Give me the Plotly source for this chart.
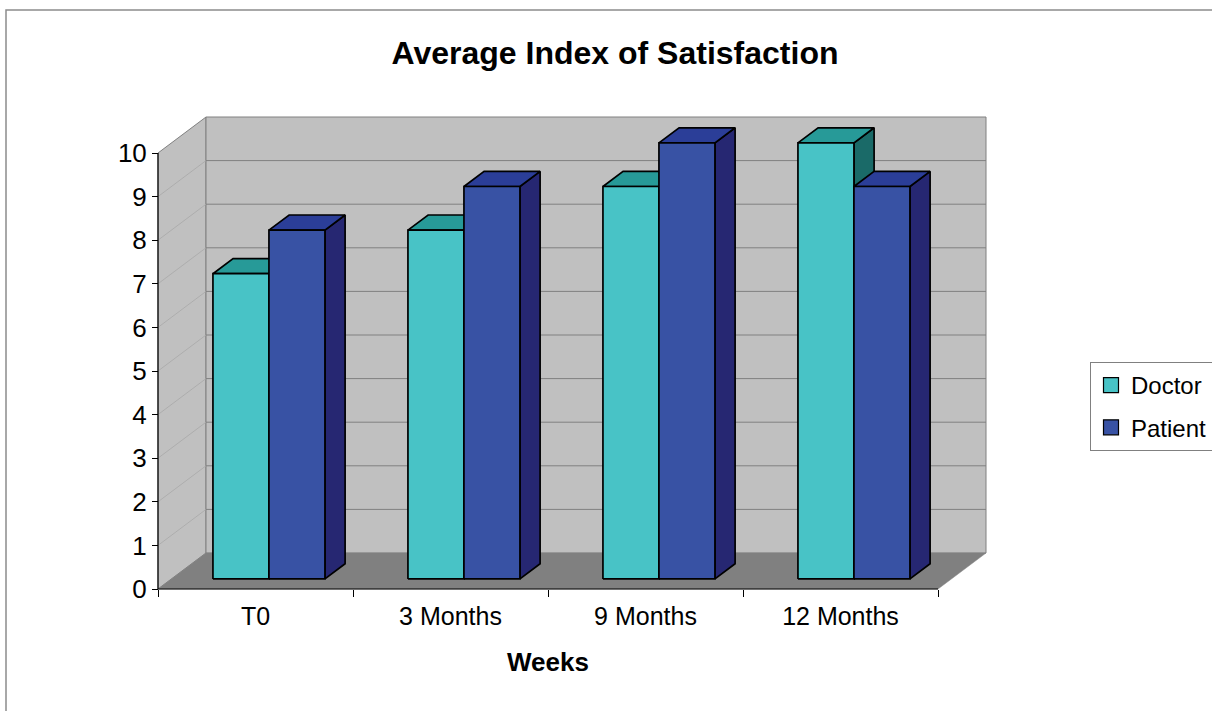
import plotly.graph_objects as go

# ---------------- data ----------------
categories = ["T0", "3 Months", "9 Months", "12 Months"]
doctor = [7, 8, 9, 10]
patient = [8, 9, 10, 9]
series_names = ["Doctor", "Patient"]
y_tick_values = [0, 1, 2, 3, 4, 5, 6, 7, 8, 9, 10]
chart_title = "Average Index of Satisfaction"
x_title = "Weeks"

# ---------------- styles ----------------
FONT = "Liberation Sans, Arial, Helvetica, sans-serif"
FRONT = {"Doctor": "#48C3C6", "Patient": "#3852A4"}
TOP = {"Doctor": "#279A98", "Patient": "#2B3E98"}
SIDE = {"Doctor": "#1A6A68", "Patient": "#262772"}
WALL = "#C0C0C0"
FLOOR = "#808080"
GRID = "#808080"
SIDE_GRID = "#A8A8A8"

# ---------------- layout plan (pixels) ----------------
W, H = 1212, 711
X0PX, Y0PX = 158, 589          # pixel of (x=0, value=0) on the front plane
PX_CAT, PX_VAL = 195.0, 43.6   # pixels per category / per value unit
ML, MR, MT, MB = 154, W - 990, 113, H - 592
PW, PH = W - ML - MR, H - MT - MB
xr = [(ML - X0PX) / PX_CAT, (W - MR - X0PX) / PX_CAT]
yr = [(Y0PX - (H - MB)) / PX_VAL, (Y0PX - MT) / PX_VAL]

DX = 48 / PX_CAT   # depth offset in category units
DY = 36 / PX_VAL   # depth offset in value units
F0, F1 = 0.28, 0.70  # bar front/back depth fractions
BAR_W = 56 / PX_CAT
ncat = len(categories)
vmax = max(y_tick_values)


def px_to_paper_x(px):
    return (px - ML) / PW


def px_to_paper_y(py):
    return ((H - MB) - py) / PH


fig = go.Figure()


def poly(xs, ys, fill, lcolor="black", lwidth=1.7):
    fig.add_trace(go.Scatter(
        x=xs + [xs[0]], y=ys + [ys[0]], mode="lines", fill="toself",
        fillcolor=fill, line=dict(color=lcolor, width=lwidth),
        hoverinfo="skip", showlegend=False))


# walls and floor
poly([0, 0, DX, DX], [0, vmax, vmax + DY, DY], WALL, GRID, 1)
poly([DX, DX, ncat + DX, ncat + DX], [DY, vmax + DY, vmax + DY, DY], WALL, GRID, 1)
poly([0, ncat, ncat + DX, DX], [0, 0, DY, DY], FLOOR, FLOOR, 0.5)

# gridlines on back wall and side wall
gx, gy, sx, sy = [], [], [], []
for v in y_tick_values[1:-1]:
    gx += [DX, ncat + DX, None]
    gy += [v + DY, v + DY, None]
    sx += [0, DX, None]
    sy += [v, v + DY, None]
fig.add_trace(go.Scatter(x=gx, y=gy, mode="lines", line=dict(color=GRID, width=1),
                         hoverinfo="skip", showlegend=False))
fig.add_trace(go.Scatter(x=sx, y=sy, mode="lines", line=dict(color=SIDE_GRID, width=0.8),
                         hoverinfo="skip", showlegend=False))

# 3D bars
values = {"Doctor": doctor, "Patient": patient}
ox0, oy0 = F0 * DX, F0 * DY
ox1, oy1 = F1 * DX, F1 * DY
for i in range(ncat):
    for s, name in enumerate(series_names):
        v = values[name][i]
        left = i + 0.5 - BAR_W + s * BAR_W
        right = left + BAR_W
        # side face
        poly([right + ox0, right + ox1, right + ox1, right + ox0],
             [oy0, oy1, v + oy1, v + oy0], SIDE[name])
        # top face
        poly([left + ox0, right + ox0, right + ox1, left + ox1],
             [v + oy0, v + oy0, v + oy1, v + oy1], TOP[name])
        # front face
        poly([left + ox0, right + ox0, right + ox0, left + ox0],
             [oy0, oy0, v + oy0, v + oy0], FRONT[name])

# front axis lines
fig.add_trace(go.Scatter(x=[0, 0, None, 0, ncat], y=[0, vmax, None, 0, 0], mode="lines",
                         line=dict(color="black", width=1.2), hoverinfo="skip",
                         showlegend=False))

# legend entries
for name in series_names:
    fig.add_trace(go.Scatter(
        x=[None], y=[None], mode="markers", name=name, legendgroup=name,
        marker=dict(symbol="square", size=15, color=FRONT[name],
                    line=dict(color="black", width=1.2))))

fig.update_layout(
    width=W, height=H,
    margin=dict(l=ML, r=MR, t=MT, b=MB, autoexpand=False),
    paper_bgcolor="white", plot_bgcolor="white",
    font=dict(family=FONT, color="black", size=24),
    title=dict(text="<b>" + chart_title + "</b>", x=615 / W, xref="container",
               xanchor="center", y=1 - 53 / H, yref="container", yanchor="middle",
               font=dict(size=32, family=FONT, color="black")),
    xaxis=dict(range=xr, showgrid=False, zeroline=False, showline=False,
               anchor="free", position=(0 - yr[0]) / (yr[1] - yr[0]),
               tickmode="array", tickvals=[i + 0.5 for i in range(ncat)],
               ticktext=categories, ticks="outside", ticklen=5,
               tickcolor="rgba(0,0,0,0)", tickfont=dict(size=25),
               minor=dict(tickmode="array", tickvals=list(range(ncat + 1)),
                          ticks="outside", ticklen=7, tickcolor="black", tickwidth=1,
                          showgrid=False)),
    yaxis=dict(range=yr, showgrid=False, zeroline=False, showline=False,
               anchor="free", position=(0 - xr[0]) / (xr[1] - xr[0]),
               tickmode="array", tickvals=y_tick_values, ticks="outside", ticklen=6,
               tickcolor="black", tickwidth=1, tickfont=dict(size=26)),
    legend=dict(x=px_to_paper_x(1090), y=px_to_paper_y(362), xanchor="left",
                yanchor="top", bgcolor="white", bordercolor="#808080", borderwidth=1,
                font=dict(size=24, family=FONT), tracegroupgap=8,
                traceorder="grouped"),
    showlegend=True,
)

fig.add_annotation(text="<b>" + x_title + "</b>", x=ncat / 2, xref="x",
                   y=px_to_paper_y(662), yref="paper", yanchor="middle",
                   showarrow=False, font=dict(size=26, family=FONT, color="black"))

fig.add_shape(type="rect", xref="paper", yref="paper",
              x0=px_to_paper_x(6), x1=px_to_paper_x(W + 20),
              y0=px_to_paper_y(H + 20), y1=px_to_paper_y(10),
              line=dict(color="#8C8C8C", width=1.5), layer="below")

fig.write_html("out.html", config={"displayModeBar": False},
               post_script="document.body.style.margin='0';document.body.style.padding='0';")
